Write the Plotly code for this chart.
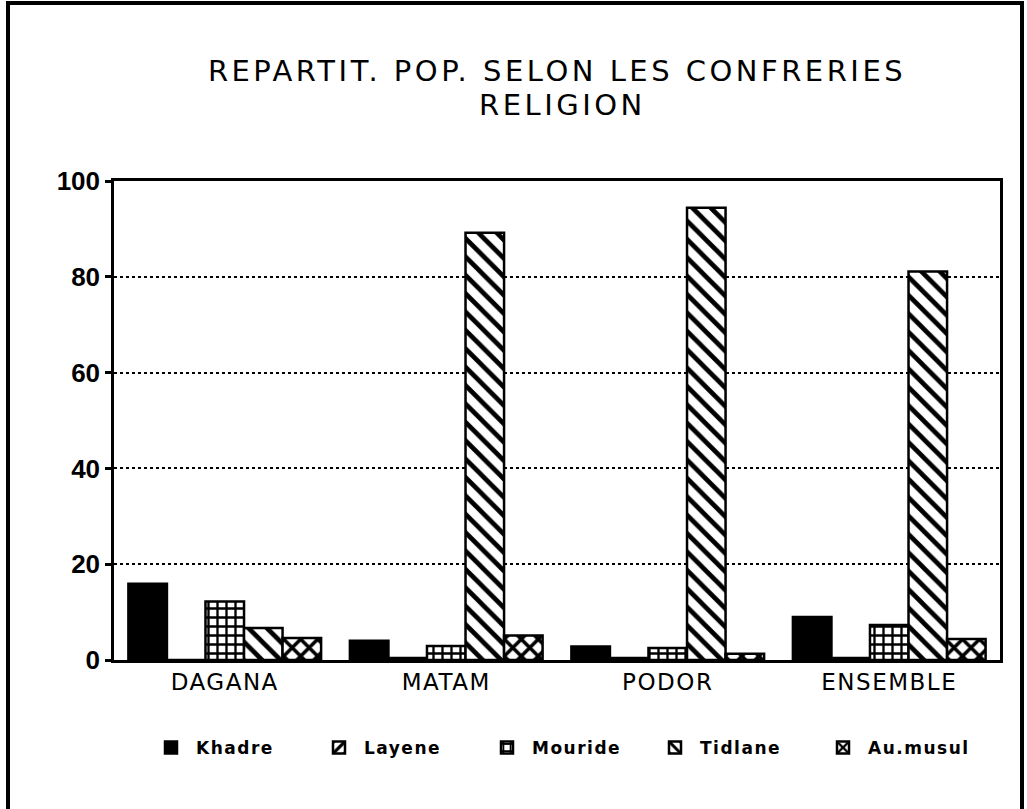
import plotly.graph_objects as go

# données
zones = ["DAGANA", "MATAM", "PODOR", "ENSEMBLE"]
confreries = ["Khadre", "Layene", "Mouride", "Tidlane", "Au.musul"]
khadre = [15.9, 4.0, 2.8, 9.0]
layene = [0.0, 0.4, 0.4, 0.4]
mouride = [12.2, 2.9, 2.5, 7.3]
tidlane = [6.7, 89.2, 94.4, 81.1]
au_musul = [4.6, 5.1, 1.3, 4.4]
y_ticks = [0, 20, 40, 60, 80, 100]

series = [khadre, layene, mouride, tidlane, au_musul]
# motif, taille, solidité
motifs = [("", 8, 0.3), ("/", 12, 0.4), ("+", 9, 0.45), ("\\", 13, 0.36), ("x", 12, 0.5)]

W, H = 1027, 809
L, R, T, B = 114, 27, 181, 149
pw = W - L - R
ph = H - T - B


def espace(txt, px):
    # lettres espacées comme sur l'original
    return '<span style="letter-spacing:%spx">%s</span>' % (px, txt)


fig = go.Figure()
for nom, vals, (motif, taille, sol) in zip(confreries, series, motifs):
    if motif == "":
        mk = dict(color="black", line=dict(color="black", width=2.5))
    else:
        mk = dict(color="white", line=dict(color="black", width=2.5),
                  pattern=dict(shape=motif, fgcolor="black", bgcolor="white", fgopacity=1,
                               size=taille, solidity=sol))
    fig.add_trace(go.Bar(x=zones, y=vals, name=espace(nom, 1.5), marker=mk))

fig.update_layout(
    width=W, height=H,
    margin=dict(l=L, r=R, t=T, b=B),
    paper_bgcolor="white", plot_bgcolor="white",
    barmode="group", bargap=0.13, bargroupgap=0,
    font=dict(family="DejaVu Sans", color="black"),
    title=dict(text=espace("REPARTIT. POP. SELON LES CONFRERIES", 3.5),
               x=557 / W, xanchor="center", y=1 - 71 / H, yanchor="middle",
               font=dict(size=29, color="black", family="DejaVu Sans")),
    legend=dict(orientation="h", x=(566 - L) / pw, xanchor="center",
                y=-(748 - (H - B)) / ph, yanchor="middle",
                font=dict(size=17, family="DejaVu Sans", color="black", weight="bold"),
                itemwidth=40, entrywidth=113, traceorder="normal"),
    xaxis=dict(showgrid=False, showline=True, linecolor="black", linewidth=2.5, mirror=True,
               ticks="", tickvals=zones, ticktext=[espace(z, 1.5) for z in zones],
               tickfont=dict(size=23, color="black", family="DejaVu Sans")),
    yaxis=dict(range=[0, 100], tickvals=y_ticks, showgrid=True, gridcolor="black",
               griddash="dot", gridwidth=2, showline=True, linecolor="black", linewidth=2.5,
               mirror=True, ticks="outside", ticklen=6, tickwidth=2.5, tickcolor="black",
               zeroline=False,
               tickfont=dict(size=26, color="black", family="Liberation Sans", weight="bold"),
               ticklabelstandoff=0),
    annotations=[dict(text=espace("RELIGION", 3.5), xref="paper", yref="paper",
                      x=(562 - L) / pw, y=1 + (T - 105) / ph, xanchor="center", yanchor="middle",
                      showarrow=False, font=dict(size=29, color="black", family="DejaVu Sans"))],
    shapes=[dict(type="rect", xref="paper", yref="paper",
                 x0=(8 - L) / pw, x1=(1022 - L) / pw,
                 y0=(H - B - 812) / ph, y1=(H - B - 3) / ph,
                 line=dict(color="black", width=4))],
)

fig.write_html("out.html", config={"displayModeBar": False},
               post_script="document.body.style.margin = '0';")
